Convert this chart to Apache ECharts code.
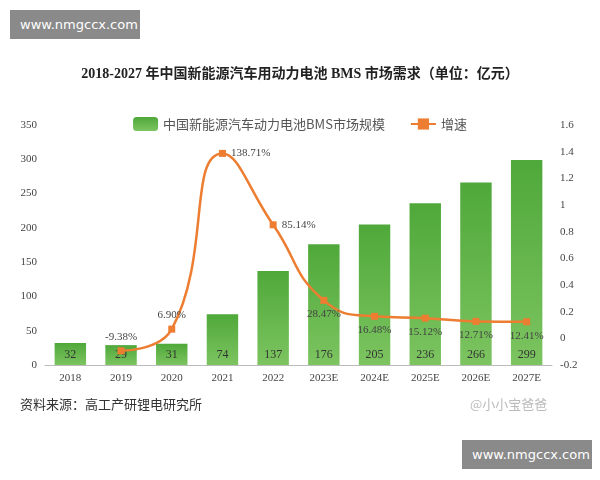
<!DOCTYPE html>
<html><head><meta charset="utf-8">
<script src="https://cdn.jsdelivr.net/npm/echarts@6/dist/echarts.min.js"></script>
<style>html,body{margin:0;background:#fff}#c{width:600px;height:480px}
.wm{position:absolute;background:#8a8a8a;color:#fff;font:13px "DejaVu Sans";padding:7px 10px}</style>
</head><body>
<div id="c"></div>
<div class="wm" style="left:10px;top:10px;width:110px">www.nmgccx.com</div>
<div class="wm" style="left:462px;top:440px;width:110px">www.nmgccx.com</div>
<script>
const years=['2018','2019','2020','2021','2022','2023E','2024E','2025E','2026E','2027E'];
const market=[32,29,31,74,137,176,205,236,266,299];
const growth=[null,-0.0938,0.069,1.3871,0.8514,0.2847,0.1648,0.1512,0.1271,0.1241];
const labelPos=[null,'top','top','right','right','bottom','bottom','bottom','bottom','bottom'];
const c=echarts.init(document.getElementById('c'));
const f='"Noto Sans CJK SC"';
c.setOption({
 title:{text:'2018-2027 年中国新能源汽车用动力电池 BMS 市场需求（单位：亿元）',left:'center',top:62,
  textStyle:{fontFamily:'"Liberation Serif",'+f,fontSize:14,fontWeight:'bold',color:'#222'}},
 legend:{top:112,left:'center',itemGap:25,textStyle:{fontFamily:f,fontSize:13,color:'#555'},
  data:['中国新能源汽车动力电池BMS市场规模','增速']},
 grid:{left:45,right:48,top:125,bottom:115},
 xAxis:{type:'category',data:years,axisTick:{show:false},axisLine:{lineStyle:{color:'#bbb'}},
  axisLabel:{fontFamily:'"Liberation Serif"',fontSize:11,color:'#444'}},
 yAxis:[{type:'value',min:0,max:350,interval:50,splitLine:{show:false},
   axisLabel:{fontFamily:'"Liberation Serif"',fontSize:11,color:'#444'}},
  {type:'value',min:-0.2,max:1.6,interval:0.2,splitLine:{show:false},
   axisLabel:{fontFamily:'"Liberation Serif"',fontSize:11,color:'#444',formatter:v=>+v.toFixed(1)}}],
 series:[{name:'中国新能源汽车动力电池BMS市场规模',type:'bar',data:market,barWidth:'62%',
   itemStyle:{color:new echarts.graphic.LinearGradient(0,0,0,1,[{offset:0,color:'#4fa83a'},{offset:1,color:'#7cc460'}])},
   label:{show:true,position:'insideBottom',distance:4,fontFamily:'"Liberation Serif"',fontSize:12,color:'#333'}},
  {name:'增速',type:'line',yAxisIndex:1,smooth:true,symbol:'rect',symbolSize:7,
   lineStyle:{color:'#ED7D31',width:2.5},itemStyle:{color:'#ED7D31'},
   data:growth.map((v,i)=>v==null?null:{value:v,label:{show:true,position:labelPos[i],
     formatter:(v*100).toFixed(2)+'%',fontFamily:'"Liberation Serif"',fontSize:11,color:'#444'}})}],
 graphic:[{type:'text',left:20,top:398,style:{text:'资料来源：高工产研锂电研究所',font:'13px "Noto Sans CJK SC"',fill:'#333'}},
  {type:'text',left:470,top:398,style:{text:'@小小宝爸爸',font:'13px "Noto Sans CJK SC"',fill:'#bbb'}}]
});
</script></body></html>
